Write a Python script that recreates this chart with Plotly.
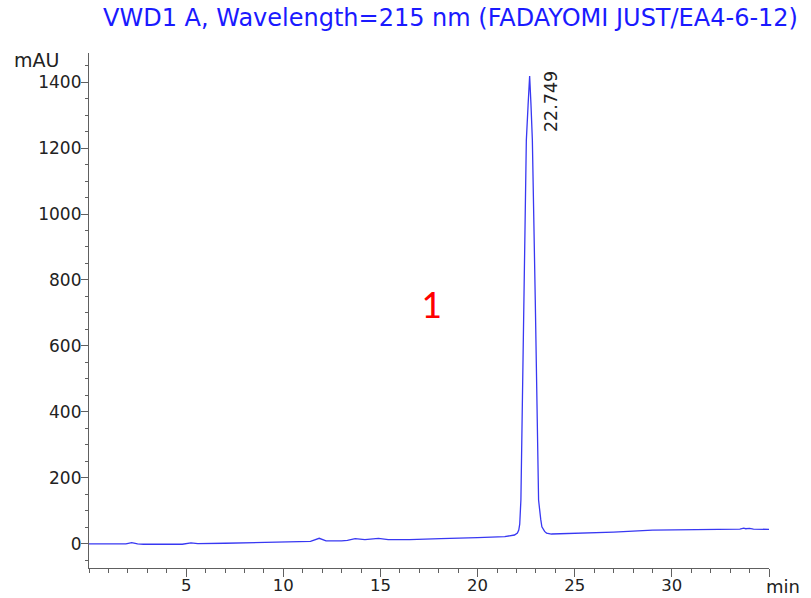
import plotly.graph_objects as go

# ---- data ----
time_min = [0, 1.4, 1.5, 1.6, 1.9, 2.2, 2.5, 2.8, 4.8, 5.25, 5.6, 7, 9, 10, 11, 11.4,
            11.85, 12.2, 13.0, 13.3, 13.7, 14.2, 14.9, 15.4, 16.5, 17.0, 17.3, 18.1,
            20.0, 21.4, 21.9, 22.05, 22.12, 22.17, 22.23, 22.37, 22.51, 22.6, 22.68,
            22.75, 22.82, 22.97, 23.14, 23.25, 23.31, 23.45, 23.55, 23.8, 25, 27, 29,
            30, 33.5, 33.7, 33.8, 34.0, 34.2, 35]
signal_mau = [0, 0, 2, 0, 0, 4, 0, -1, -1, 3, 1, 2, 4, 5, 6, 8,
              17, 9, 9, 11, 16, 13, 17, 13, 13, 14, 16, 16,
              19, 22, 27, 33, 42, 60, 133, 739, 1224, 1330, 1418,
              1330, 1224, 739, 133, 75, 52, 38, 33, 30, 32, 36, 42,
              43, 45, 48, 46, 47, 45, 44]

peak_rt = 22.749
peak_label = "22.749"
x_tickvals = [5, 10, 15, 20, 25, 30, 35]
x_ticktext = ["5", "10", "15", "20", "25", "30", ""]
y_tickvals = [0, 200, 400, 600, 800, 1000, 1200, 1400]
title_text = "VWD1 A, Wavelength=215 nm (FADAYOMI JUST/EA4-6-12)"
sample_label = "1"

W, H = 811, 598
ML, MR, MT, MB = 89, 42, 53, 30
FONT = "DejaVu Sans, Liberation Sans, Arial, sans-serif"

fig = go.Figure()
fig.add_trace(go.Scatter(x=time_min, y=signal_mau, mode="lines",
                         line=dict(color="#3838f2", width=1.3),
                         hoverinfo="skip", showlegend=False))

axis_col = "#606060"
fig.update_layout(
    width=W, height=H,
    margin=dict(l=ML, r=MR, t=MT, b=MB, pad=0, autoexpand=False),
    paper_bgcolor="white", plot_bgcolor="white",
    font=dict(family=FONT, color="#222222", size=17),
    xaxis=dict(range=[0, 35], showgrid=False, zeroline=False, showline=True,
               automargin=False,
               linecolor=axis_col, linewidth=1.2, ticks="outside", ticklen=8,
               tickcolor=axis_col, tickwidth=1, tickmode="array",
               tickvals=x_tickvals, ticktext=x_ticktext,
               tickfont=dict(size=16.5), ticklabelstandoff=-6,
               minor=dict(tickmode="linear", tick0=0, dtick=1, ticks="outside",
                          ticklen=4, tickcolor=axis_col, showgrid=False)),
    yaxis=dict(range=[-73, 1488], showgrid=False, zeroline=False, showline=True,
               automargin=False,
               linecolor=axis_col, linewidth=1.2, ticks="outside", ticklen=7,
               tickcolor=axis_col, tickwidth=1, tickmode="array",
               tickvals=y_tickvals, tickfont=dict(size=17), ticklabelstandoff=-4,
               minor=dict(tickmode="linear", tick0=0, dtick=50, ticks="outside",
                          ticklen=3, tickcolor=axis_col, showgrid=False)),
)

pw = W - ML - MR
ph = H - MT - MB

def px_x(p):
    return (p - ML) / pw

def px_y(p):
    return (H - MB - p) / ph

fig.add_annotation(text=title_text, xref="paper", yref="paper",
                   x=px_x(450), y=px_y(18), xanchor="center", yanchor="middle",
                   showarrow=False, font=dict(size=24, color="#1a1aff"))
fig.add_annotation(text="mAU", xref="paper", yref="paper",
                   x=px_x(37), y=px_y(60), xanchor="center", yanchor="middle",
                   showarrow=False, font=dict(size=19, color="#222222"))
fig.add_annotation(text="min", xref="paper", yref="paper",
                   x=px_x(783), y=px_y(586), xanchor="center", yanchor="middle",
                   showarrow=False, font=dict(size=18, color="#222222"))
fig.add_annotation(text=peak_label, x=peak_rt, y=1418, xref="x", yref="y",
                   xanchor="center", yanchor="middle", textangle=-90,
                   xshift=20, yshift=-25, showarrow=False,
                   font=dict(size=17.5, color="#222222"))
fig.add_annotation(text=sample_label, x=17.58, y=725, xref="x", yref="y",
                   xanchor="center", yanchor="middle", showarrow=False,
                   font=dict(size=40, color="#ff0000",
                             family="Carlito, Calibri, Liberation Sans, sans-serif"))

fig.write_html("out.html")
